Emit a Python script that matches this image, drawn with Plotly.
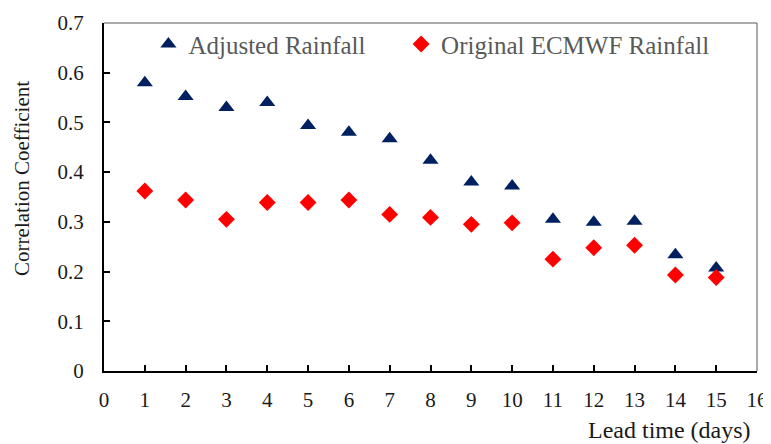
import plotly.graph_objects as go

lead_days = list(range(1, 16))
adjusted = [0.580, 0.552, 0.530, 0.540, 0.494, 0.480, 0.467, 0.424, 0.380, 0.372,
            0.305, 0.299, 0.301, 0.234, 0.207]
original = [0.362, 0.344, 0.305, 0.339, 0.339, 0.344, 0.315, 0.309, 0.295, 0.298,
            0.225, 0.248, 0.253, 0.193, 0.188]
x_ticks = list(range(0, 17))
y_ticks = [0, 0.1, 0.2, 0.3, 0.4, 0.5, 0.6, 0.7]
y_tick_text = ["0", "0.1", "0.2", "0.3", "0.4", "0.5", "0.6", "0.7"]

FONT = "Times New Roman"

fig = go.Figure()
fig.add_trace(go.Scatter(
    x=lead_days, y=adjusted, mode="markers", name="Adjusted Rainfall",
    marker=dict(symbol="triangle-up", size=14, color="#002060"), legend="legend",
))
fig.add_trace(go.Scatter(
    x=lead_days, y=original, mode="markers", name="Original ECMWF Rainfall",
    marker=dict(symbol="diamond", size=13, color="#FF0000"), legend="legend2",
))

leg_common = dict(font=dict(family=FONT, size=25, color="#595959"),
                  bgcolor="rgba(0,0,0,0)", itemwidth=30, yanchor="top", xanchor="left")

# page body has an 8px margin, so the figure is sized to fit the 771x444 window
fig.update_layout(
    width=763, height=436,
    margin=dict(l=96, r=14, t=15, b=73, autoexpand=False),
    paper_bgcolor="white", plot_bgcolor="white",
    font=dict(family=FONT, size=20, color="#1a1a1a"),
    showlegend=True,
    legend=dict(x=0.068, y=1.005, **leg_common),
    legend2=dict(x=0.455, y=1.005, **leg_common),
    xaxis=dict(
        range=[0, 16], tickmode="array", tickvals=x_ticks,
        ticks="inside", ticklen=6, tickwidth=1.5, tickcolor="black",
        showline=True, linecolor="black", linewidth=2,
        showgrid=False, zeroline=False, ticklabelstandoff=9, automargin=False,
        tickfont=dict(family=FONT, size=21),
    ),
    yaxis=dict(
        range=[0, 0.7], tickmode="array", tickvals=y_ticks, ticktext=y_tick_text,
        ticks="inside", ticklen=6, tickwidth=1.5, tickcolor="black",
        showline=True, linecolor="black", linewidth=2,
        showgrid=False, zeroline=False, ticklabelstandoff=14, automargin=False,
        tickfont=dict(family=FONT, size=21),
    ),
    shapes=[
        dict(type="line", xref="paper", yref="paper", x0=0, x1=1, y0=1, y1=1,
             line=dict(color="#595959", width=1)),
        dict(type="line", xref="paper", yref="paper", x0=1, x1=1, y0=0, y1=1,
             line=dict(color="#595959", width=1)),
    ],
    annotations=[
        dict(text="Lead time (days)", xref="paper", yref="paper", x=0.994, y=-0.17,
             xanchor="right", yanchor="middle", showarrow=False,
             font=dict(family=FONT, size=24, color="#1a1a1a")),
        dict(text="Correlation Coefficient", xref="paper", yref="paper", x=0, y=0.552,
             xshift=-82, xanchor="center", yanchor="middle", textangle=-90,
             showarrow=False, font=dict(family=FONT, size=21, color="#1a1a1a")),
    ],
)

fig.write_html("out.html")
